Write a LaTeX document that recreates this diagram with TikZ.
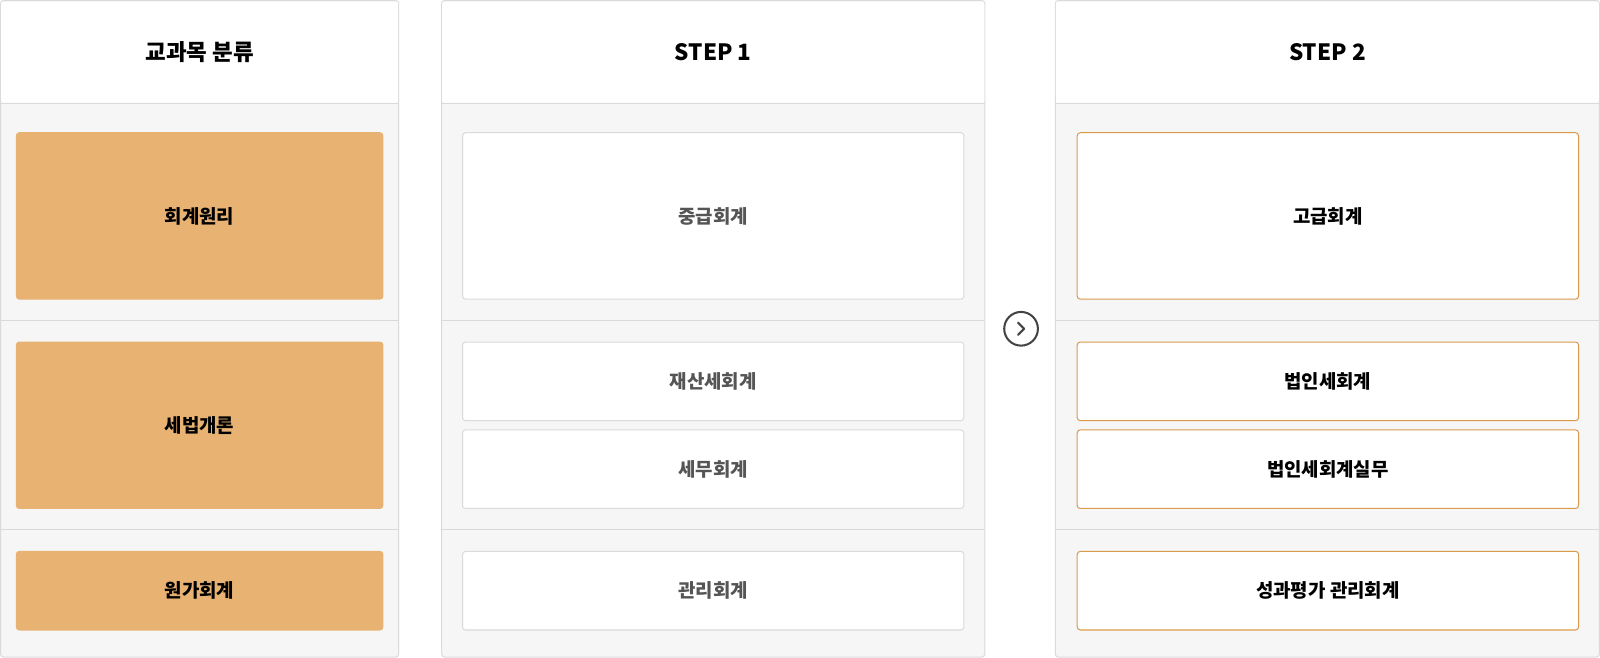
\documentclass[tikz,border=0pt]{standalone}
\usepackage{fontspec}
\setmainfont{Noto Sans CJK KR}
\definecolor{panelgray}{HTML}{F6F6F6}
\definecolor{linegray}{HTML}{DADADA}
\definecolor{boxorange}{HTML}{E8B272}
\definecolor{lineorange}{HTML}{D99A4E}
\definecolor{textgray}{HTML}{555555}
\definecolor{arrowgray}{HTML}{444444}
\begin{document}
\begin{tikzpicture}[x=1pt, y=-1pt]
    \tikzstyle{panel_style}=[rectangle, draw=linegray, fill=panelgray, rounded corners=3pt, minimum height=643pt, inner sep=0pt, line width=1pt]
    \tikzstyle{header_style}=[rectangle, fill=white, rounded corners=2pt, minimum height=99pt, inner sep=0pt, font=\bfseries\fontsize{22}{26}\selectfont]
    \tikzstyle{sep_style}=[draw=linegray, line width=1pt]
    \tikzstyle{base_style}=[rectangle, draw=boxorange, fill=boxorange, rounded corners=3pt, minimum width=359pt, line width=1pt, font=\bfseries\fontsize{18.5}{22}\selectfont]
    \tikzstyle{step1_style}=[rectangle, draw=linegray, fill=white, rounded corners=3pt, minimum width=491pt, line width=1pt, text=textgray, font=\bfseries\fontsize{18.5}{22}\selectfont]
    \tikzstyle{step2_style}=[rectangle, draw=lineorange, fill=white, rounded corners=3pt, minimum width=491pt, line width=1pt, font=\bfseries\fontsize{18.5}{22}\selectfont]

    \useasboundingbox (0,0) rectangle (1567,644);

    % panels
    \node at (195.5, 322) [panel_style, minimum width=390pt] (col_base) {};
    \node at (698.5, 322) [panel_style, minimum width=532pt] (col_step1) {};
    \node at (1300, 322) [panel_style, minimum width=533pt] (col_step2) {};

    % headers
    \node at (195.5, 51) [header_style, minimum width=389pt] (head_base) {교과목 분류};
    \node at (698.5, 51) [header_style, minimum width=531pt] (head_step1) {STEP 1};
    \node at (1300, 51) [header_style, minimum width=532pt] (head_step2) {STEP 2};

    % row lines
    \foreach \c in {base, step1, step2}
      \foreach \y in {101, 314, 519}
        \draw[sep_style] (col_\c.west |- 0,\y) -- (col_\c.east |- 0,\y);

    % base subjects
    \node at (195.5, 211.5) [base_style, minimum height=163pt] (base_a) {회계원리};
    \node at (195.5, 416.5) [base_style, minimum height=163pt] (base_b) {세법개론};
    \node at (195.5, 578.5) [base_style, minimum height=77pt] (base_c) {원가회계};

    % step 1
    \node at (698.5, 211.5) [step1_style, minimum height=163pt] (step1_a) {중급회계};
    \node at (698.5, 373.5) [step1_style, minimum height=77pt] (step1_b) {재산세회계};
    \node at (698.5, 459.5) [step1_style, minimum height=77pt] (step1_c) {세무회계};
    \node at (698.5, 578.5) [step1_style, minimum height=77pt] (step1_d) {관리회계};

    % step 2
    \node at (1300.5, 211.5) [step2_style, minimum height=163pt] (step2_a) {고급회계};
    \node at (1300.5, 373.5) [step2_style, minimum height=77pt] (step2_b) {법인세회계};
    \node at (1300.5, 459.5) [step2_style, minimum height=77pt] (step2_c) {법인세회계실무};
    \node at (1300.5, 578.5) [step2_style, minimum height=77pt] (step2_d) {성과평가 관리회계};

    % next sign
    \node at (1000, 322) [circle, draw=arrowgray, line width=2pt, minimum size=33pt, inner sep=0pt] (next) {};
    \draw[arrowgray, line width=2pt, line cap=round, line join=round]
      ([shift={(-3,-6)}]next.center) -- ([shift={(3,0)}]next.center) -- ([shift={(-3,6)}]next.center);

\end{tikzpicture}
\end{document}
